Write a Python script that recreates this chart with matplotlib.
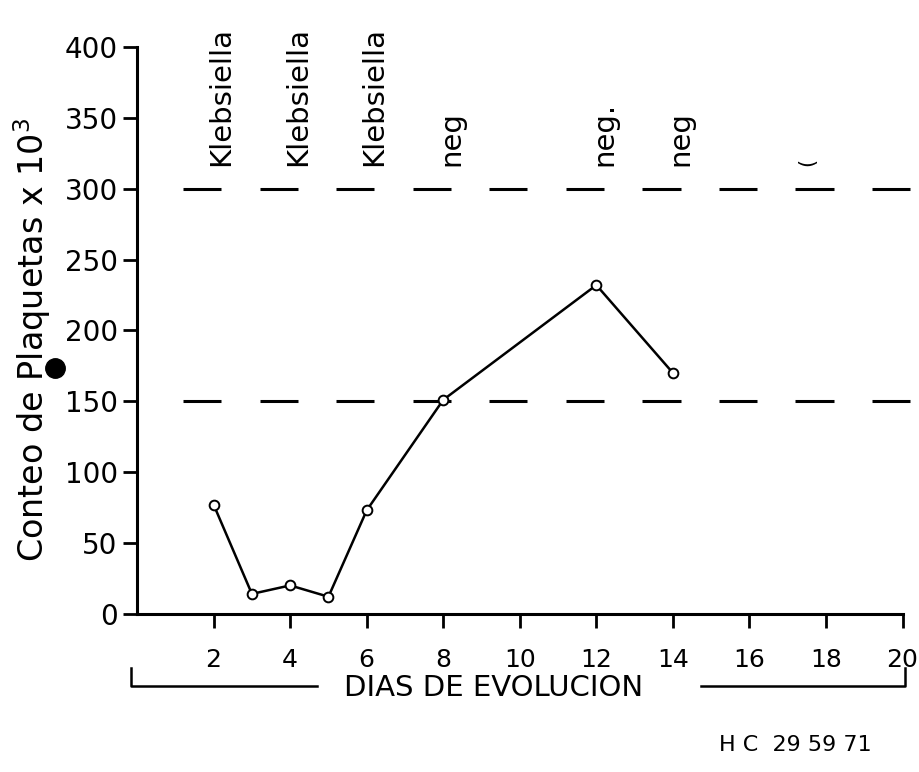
import numpy as np
import matplotlib
matplotlib.use("Agg")
from matplotlib import pyplot as plt
from matplotlib.lines import Line2D

# platelet count (x10^3) by day of evolution
days = [2, 3, 4, 5, 6, 8, 12, 14]
platelets = [77, 14, 20, 12, 73, 151, 232, 170]

# culture results written over the chart
culture_days = [2.2, 4.2, 6.2, 8.2, 12.2, 14.2, 17.5]
culture_text = ["Klebsiella", "Klebsiella", "Klebsiella", "neg", "neg.", "neg", "("]

ref_levels = [300, 150]
yticks = [0, 50, 100, 150, 200, 250, 300, 350, 400]
xticks = [2, 4, 6, 8, 10, 12, 14, 16, 18, 20]

plt.rcParams['font.family'] = ['DejaVu Sans']

fig = plt.figure(figsize=(9.2, 7.72), dpi=100)
ax = fig.add_axes([0.149, 0.205, 0.832, 0.734])

ax.plot(days, platelets, color="black", lw=1.8, marker="o", ms=7,
        mfc="white", mec="black", mew=1.4, zorder=3)

# dashed normal-range lines, dash = 1 day, gap = 1 day
starts = np.arange(1.2, 20, 2)
ends = np.minimum(starts + 1.0, 20.2)
for lvl in ref_levels:
    ax.hlines([lvl] * len(starts), starts, ends, color="black", lw=2.2, clip_on=False)

for x, t in zip(culture_days, culture_text):
    fs = 21 if t != "(" else 15
    ax.text(x, 316, t, rotation=90, ha="center", va="bottom", fontsize=fs, clip_on=False)

ax.set_xlim(0, 20)
ax.set_ylim(0, 400)
ax.set_xticks(xticks)
ax.set_yticks(yticks)
ax.tick_params(axis="y", direction="out", length=10, width=2, pad=4, labelsize=20)
ax.tick_params(axis="x", direction="out", length=10, width=2, pad=15, labelsize=18)
for s in ["top", "right"]:
    ax.spines[s].set_visible(False)
for s in ["left", "bottom"]:
    ax.spines[s].set_linewidth(2.2)

fig.text(0.035, 0.56, "Conteo de Plaquetas x 10$^3$", rotation=90,
         ha="center", va="center", fontsize=24)
fig.add_artist(Line2D([0.0598], [0.523], marker="o", ms=14, color="black",
                      transform=fig.transFigure))

# bracket under the x axis
fig.add_artist(Line2D([0.142, 0.142, 0.345], [0.135, 0.112, 0.112],
                      color="black", lw=1.8, transform=fig.transFigure))
fig.add_artist(Line2D([0.762, 0.984, 0.984], [0.112, 0.112, 0.135],
                      color="black", lw=1.8, transform=fig.transFigure))
fig.text(0.537, 0.109, "DIAS DE EVOLUCION", ha="center", va="center", fontsize=21)
fig.text(0.865, 0.035, "H C  29 59 71", ha="center", va="center", fontsize=16)

fig.savefig("out.png", dpi=100, facecolor="white")
